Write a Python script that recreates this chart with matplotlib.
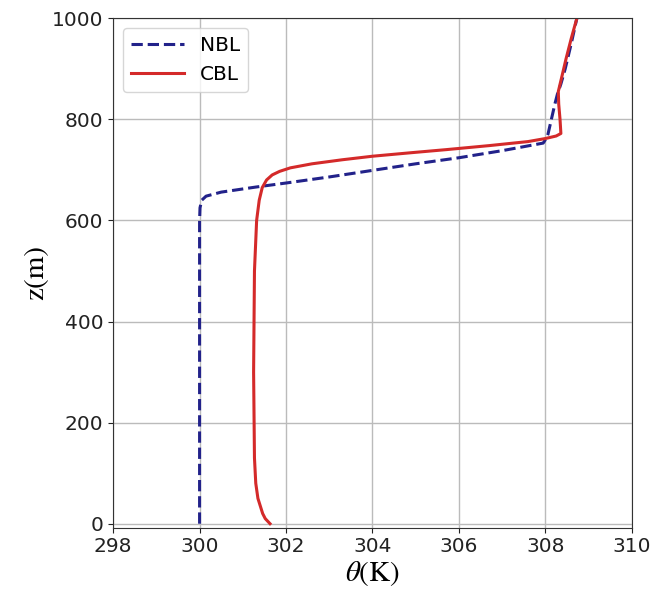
import numpy as np
import matplotlib.pyplot as plt

plt.rcParams["mathtext.fontset"] = "stix"

# potential temperature profiles
z_nbl = [0, 100, 300, 500, 600, 625, 640, 648, 656, 666, 674, 686, 699, 712, 724, 738, 753, 762, 770, 800, 830, 850, 870, 900, 950, 1000]
theta_nbl = [300.0, 300.0, 300.0, 300.0, 300.0, 300.01, 300.05, 300.15, 300.5, 301.3, 302.0, 303.0, 304.0, 305.0, 306.0, 307.0, 307.95, 308.02, 308.06, 308.14, 308.22, 308.28, 308.36, 308.46, 308.6, 308.73]

z_cbl = [0, 10, 20, 50, 80, 130, 300, 500, 600, 640, 665, 680, 690, 697, 704, 712, 720, 727, 734, 740, 748, 756, 762, 767, 772, 800, 830, 855, 880, 920, 960, 1000]
theta_cbl = [301.63, 301.52, 301.46, 301.35, 301.3, 301.27, 301.25, 301.27, 301.32, 301.38, 301.45, 301.55, 301.68, 301.85, 302.1, 302.6, 303.3, 304.0, 304.9, 305.7, 306.7, 307.6, 308.0, 308.25, 308.36, 308.34, 308.31, 308.3, 308.37, 308.48, 308.6, 308.73]

fig = plt.figure(figsize=(6.54, 6.08), dpi=100)
ax = fig.add_axes([0.173, 0.132, 0.793, 0.838])

ax.plot(theta_nbl, z_nbl, "--", color="#22228a", lw=2.2, label="NBL")
ax.plot(theta_cbl, z_cbl, "-", color="#d42a2a", lw=2.2, label="CBL")

ax.set_xlim(298, 310)
ax.set_ylim(-8, 1000)
ax.set_xticks(np.arange(298, 311, 2))
ax.set_yticks(np.arange(0, 1001, 200))
ax.tick_params(labelsize=14.5, colors="#222222")
ax.grid(True, color="#bbbbbb", lw=1)
for s in ax.spines.values():
    s.set_color("#333333")

ax.set_xlabel(r"$\theta$(K)", fontsize=21, family="STIXGeneral", labelpad=2)
ax.set_ylabel("z(m)", fontsize=21, family="STIXGeneral", labelpad=2)

ax.legend(loc="upper left", fontsize=14.5, handlelength=2.6)

plt.savefig("out.png")
